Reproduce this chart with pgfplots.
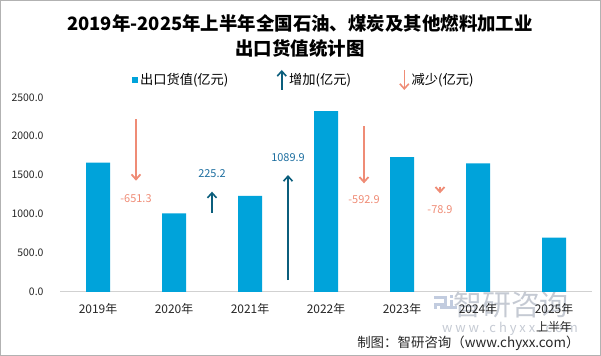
\documentclass[border=0pt]{standalone}
\usepackage{fontspec}
\setmainfont{Noto Sans CJK SC}
\usepackage{pgfplots}
\pgfplotsset{compat=1.18}
\usetikzlibrary{arrows.meta}
\definecolor{barblue}{HTML}{00A3DA}
\definecolor{upc}{HTML}{0B5E7C}
\definecolor{downc}{HTML}{EF8C76}
\definecolor{uptxt}{HTML}{1E6FA0}
\definecolor{wm}{HTML}{C5CAD3}
\definecolor{wmicon}{HTML}{C2CCDF}
\begin{document}
\begin{tikzpicture}
\path (0bp,0bp) rectangle (601bp,356bp);
\draw[color=black!30, line width=1bp] (0.5bp,0.5bp) rectangle (600.5bp,355.5bp);
\node[font=\fontsize{18.5}{18.5}\selectfont\bfseries] at (300bp,333bp) {2019年-2025年上半年全国石油、煤炭及其他燃料加工业};
\node[font=\fontsize{18.5}{18.5}\selectfont\bfseries] at (300bp,308bp) {出口货值统计图};
% watermark
\fill[wmicon] (434bp,60bp) rectangle (447bp,57bp);
\fill[wmicon] (444bp,60bp) rectangle (447bp,50bp);
\fill[wmicon] (434bp,53bp) rectangle (447bp,50bp);
\fill[wmicon] (434bp,53bp) rectangle (437bp,47bp);
\fill[wmicon] (450bp,61bp) rectangle (453bp,58bp);
\fill[wmicon] (450bp,56bp) rectangle (453bp,47bp);
\fill[wmicon] (440bp,50bp) rectangle (457bp,47bp);
\node[text=wm, font=\fontsize{29}{29}\selectfont] at (511bp,51bp) {智研咨询};
\node[text=wm, font=\fontsize{13}{13}\selectfont] at (510bp,27bp) {w w w . c h y x x . c o m};
\node[font=\fontsize{13.5}{13.5}\selectfont, anchor=east, text=black!85] at (583bp,13bp) {制图：智研咨询（www.chyxx.com）};
\begin{axis}[
  at={(60bp,64bp)}, anchor=south west,
  scale only axis, width=532bp, height=194.7bp,
  xmin=-0.5, xmax=6.5, ymin=0, ymax=2500,
  axis lines*=left,
  x axis line style={draw=black!18, line width=1bp, -},
  y axis line style={draw=none},
  major tick length=0pt,
  ytick={0,500,...,2500},
  xtick={0,...,6},
  xticklabels={2019年,2020年,2021年,2022年,2023年,2024年,{2025年\\上半年}},
  xticklabel style={align=center, font=\fontsize{12}{18}\selectfont, text=black!85, yshift=-8bp},
  yticklabel style={font=\fontsize{10.5}{10.5}\selectfont, text=black!85, xshift=-13bp},
  /pgf/number format/.cd, fixed, fixed zerofill, precision=1, 1000 sep={}, assume math mode=true, /pgfplots/.cd,
  legend columns=3,
  legend style={draw=none, fill=none, at={(0.135,1.089)}, anchor=west,
    font=\fontsize{13.3}{13.3}\selectfont,
    /tikz/every even column/.append style={column sep=46bp},
    inner sep=0pt},
  legend cell align=left,
  clip=false,
]
\addplot[ybar, bar width=24bp, fill=barblue, draw=none,
  legend image code/.code={\fill[barblue] (0bp,-3bp) rectangle (6bp,3bp);}]
  coordinates {(0,1660.0) (1,1008.7) (2,1233.9) (3,2323.8) (4,1730.9) (5,1652.0) (6,697.0)};
\addlegendentry{出口货值(亿元)}
\addplot[upc, line width=1.6bp, -{Straight Barb[length=5bp,width=9bp]},
  legend image code/.code={\draw[upc,line width=1.6bp,-{Straight Barb[length=5bp,width=9bp]}] (3bp,-10bp) -- (3bp,10bp);}]
  coordinates {(1.5,1018) (1.5,1288)};
\addlegendentry{增加(亿元)}
\addplot[downc, line width=1.8bp, -{Straight Barb[length=5bp,width=9bp]},
  legend image code/.code={\draw[downc,line width=1.6bp,-{Straight Barb[length=5bp,width=9bp]}] (3bp,10bp) -- (3bp,-10bp);}]
  coordinates {(0.5,2221) (0.5,1429)};
\addlegendentry{减少(亿元)}
\addplot[upc, line width=1.6bp, -{Straight Barb[length=5bp,width=9bp]}, forget plot]
  coordinates {(2.5,154) (2.5,1502)};
\addplot[downc, line width=1.8bp, -{Straight Barb[length=5bp,width=9bp]}, forget plot]
  coordinates {(3.5,2131) (3.5,1395)};
\addplot[downc, line width=1.8bp, -{Straight Barb[length=5bp,width=9bp]}, forget plot]
  coordinates {(4.5,1352) (4.5,1267)};
\node[text=downc, font=\fontsize{11}{11}\selectfont] at (axis cs:0.5,1194) {-651.3};
\node[text=uptxt, font=\fontsize{11}{11}\selectfont] at (axis cs:1.5,1515) {225.2};
\node[text=uptxt, font=\fontsize{11}{11}\selectfont] at (axis cs:2.5,1730) {1089.9};
\node[text=downc, font=\fontsize{11}{11}\selectfont] at (axis cs:3.5,1181) {-592.9};
\node[text=downc, font=\fontsize{11}{11}\selectfont] at (axis cs:4.5,1053) {-78.9};
\end{axis}
\end{tikzpicture}
\end{document}
